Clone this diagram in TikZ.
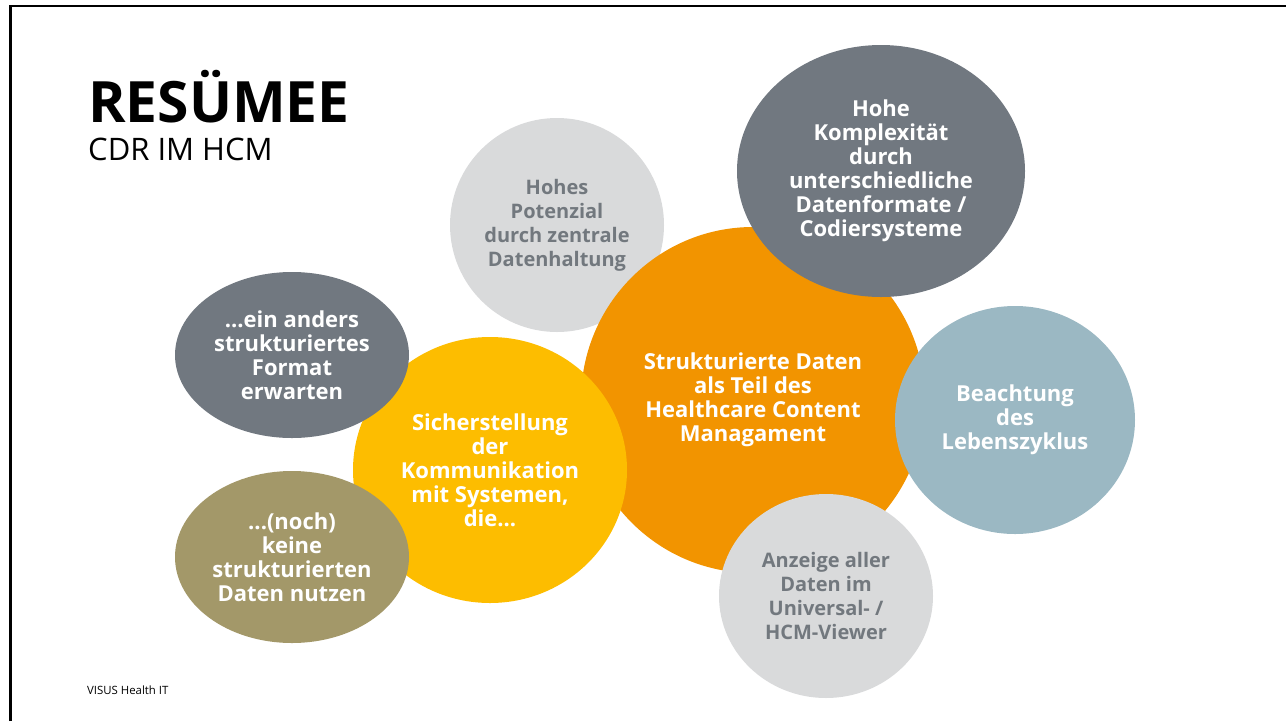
\documentclass[tikz,border=0pt]{standalone}
\usepackage{fontspec}
\setmainfont{Open Sans}
\usetikzlibrary{shapes.geometric}

\definecolor{visusorange}{HTML}{F29400}
\definecolor{visusyellow}{HTML}{FDBD00}
\definecolor{visusdark}{HTML}{717880}
\definecolor{visuslight}{HTML}{D9DADB}
\definecolor{visusgreytext}{HTML}{72787E}
\definecolor{visusblue}{HTML}{9BB8C3}
\definecolor{visusolive}{HTML}{A39869}

\begin{document}
\begin{tikzpicture}[x=1pt, y=-1pt,
    bubble/.style={ellipse, inner sep=0pt, align=center, text=white, font=\bfseries\fontsize{22}{24}\selectfont},
    lightbubble/.style={bubble, fill=visuslight, text=visusgreytext, font=\bfseries\fontsize{20}{24}\selectfont},
    title/.style={anchor=base west, inner sep=0pt, font=\bfseries\fontsize{57}{60}\selectfont},
    subtitle/.style={anchor=base west, inner sep=0pt, font=\fontsize{31}{34}\selectfont},
    footer/.style={anchor=base west, inner sep=0pt, font=\fontsize{11.4}{13}\selectfont}
]
\useasboundingbox (0,0) rectangle (1286,721);

% ==== Frame ====
\draw[line width=2.5pt] (10.5,721) -- (10.5,6) -- (1286,6);

% ==== Title ====
\node[title] (title) at (88,122) {RESÜMEE};
\node[subtitle] (subtitle) at (88,160) {CDR IM HCM};
\node[footer] (footer) at (87,694) {VISUS Health IT};

% ==== Bubbles ====
\node[lightbubble, minimum width=214pt, minimum height=214pt] (potenzial) at (557,225)
    {Hohes\\Potenzial\\durch zentrale\\Datenhaltung};
\node[bubble, fill=visusorange, minimum width=344pt, minimum height=346pt] (daten) at (753,400)
    {Strukturierte Daten\\als Teil des\\Healthcare Content\\Managament};
\node[bubble, fill=visusdark, minimum width=288pt, minimum height=252pt] (komplex) at (881,171)
    {Hohe\\Komplexität\\durch\\unterschiedliche\\Datenformate /\\Codiersysteme};
\node[bubble, fill=visusblue, minimum width=240pt, minimum height=228pt] (zyklus) at (1015,420)
    {Beachtung\\des\\Lebenszyklus};
\node[lightbubble, minimum width=214pt, minimum height=204pt] (viewer) at (826,596)
    {Anzeige aller\\Daten im\\Universal- /\\HCM-Viewer};
\node[bubble, fill=visusyellow, minimum width=274pt, minimum height=266pt] (kommunikation) at (490,470)
    {Sicherstellung\\der\\Kommunikation\\mit Systemen,\\die...};
\node[bubble, fill=visusdark, minimum width=234pt, minimum height=166pt] (format) at (292,355)
    {...ein anders\\strukturiertes\\Format\\erwarten};
\node[bubble, fill=visusolive, minimum width=234pt, minimum height=172pt] (nutzen) at (292,557)
    {...(noch)\\keine\\strukturierten\\Daten nutzen};

\end{tikzpicture}
\end{document}
